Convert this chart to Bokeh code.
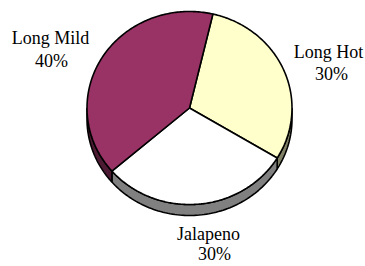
import numpy as np
from bokeh.plotting import figure
from bokeh.models import Range1d, ColumnDataSource
from bokeh.core.properties import value
from bokeh.embed import file_html
from bokeh.resources import INLINE

# ---- data ----
categories = ["Long Hot", "Jalapeno", "Long Mild"]
shares = [30, 30, 40]
top_colors = ["#FFFFCC", "#FFFFFF", "#993366"]
side_colors = ["#808066", "#808080", "#4D1A33"]

# ---- layout (pixels in plot space, y up) ----
W, H = 365, 266
cx, cy = 189.0, H - 107.5
rx, ry = 102.5, 96.5
depth = 11.0
start_deg = 76.8

# label anchor positions (line 1 / line 2), screen x and screen-baseline y from top
label_pos = {
    "Long Hot": [(328, 51.7), (331, 73.3)],
    "Jalapeno": [(208, 233.0), (214, 253.5)],
    "Long Mild": [(50, 37.3), (51, 60.0)],
}

p = figure(width=W, height=H, output_backend="svg", toolbar_location=None,
           x_range=Range1d(0, W), y_range=Range1d(0, H), min_border=0)
p.axis.visible = False
p.grid.visible = False
p.outline_line_color = None
p.background_fill_color = "white"

total = float(sum(shares))
bounds = []
a = start_deg
for s in shares:
    b = a - s / total * 360.0
    bounds.append((a, b))
    a = b

def ell(t_deg, dy=0.0):
    t = np.radians(t_deg)
    return cx + rx * np.cos(t), cy + ry * np.sin(t) - dy

side_xs, side_ys, side_fc = [], [], []
for (a0, a1), col in zip(bounds, side_colors):
    hi, lo = a0, a1
    for k in (-2, -1, 0, 1):
        L, U = -180 + 360 * k, 360 * k
        l2, u2 = max(lo, L), min(hi, U)
        if u2 - l2 > 0.01:
            ts = np.linspace(l2, u2, 80)
            x1, y1 = ell(ts)
            x2, y2 = ell(ts[::-1], depth)
            side_xs.append(list(np.concatenate([x1, x2])))
            side_ys.append(list(np.concatenate([y1, y2])))
            side_fc.append(col)

p.patches(xs=side_xs, ys=side_ys, fill_color=side_fc, line_color="black", line_width=1.6)

top_xs, top_ys = [], []
for (a0, a1) in bounds:
    ts = np.linspace(a0, a1, 160)
    x, y = ell(ts)
    top_xs.append([cx] + list(x))
    top_ys.append([cy] + list(y))

p.patches(xs=top_xs, ys=top_ys, fill_color=top_colors, line_color="black", line_width=1.6)

tx, ty, tt = [], [], []
for c, s in zip(categories, shares):
    (x1, y1), (x2, y2) = label_pos[c]
    tx += [x1, x2]
    ty += [H - y1, H - y2]
    tt += [c, f"{round(s / total * 100)}%"]

src = ColumnDataSource(dict(x=tx, y=ty, text=tt))
p.text(x="x", y="y", text="text", source=src, text_align="center",
       text_baseline="alphabetic", text_font=value("Liberation Serif"),
       text_font_size="18px", text_color="black")

open("out.html", "w").write(file_html(p, INLINE))
